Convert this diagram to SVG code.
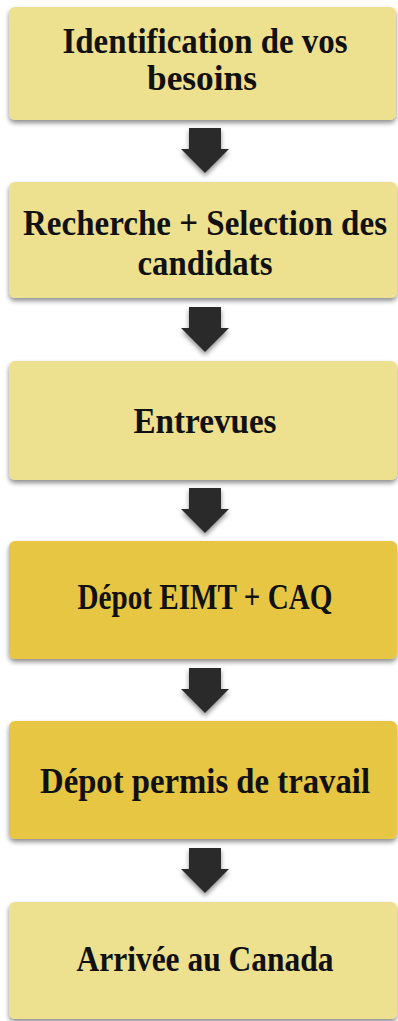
<svg xmlns="http://www.w3.org/2000/svg" width="398" height="1021" viewBox="0 0 398 1021">
<defs>
<filter id="sh" x="-5%" y="-10%" width="110%" height="130%">
<feGaussianBlur in="SourceAlpha" stdDeviation="2.5"/>
<feOffset dx="0" dy="3" result="b"/>
<feComponentTransfer><feFuncA type="linear" slope="0.45"/></feComponentTransfer>
<feMerge><feMergeNode/><feMergeNode in="SourceGraphic"/></feMerge>
</filter>
<path id="arr" d="M-16,0 H16 V21 H24 L0,45 L-24,21 H-16 Z"/>
</defs>
<style>
.light{fill:#EDE08F}
.dark{fill:#E6C642}
.t{font-family:"Liberation Serif",serif;font-weight:bold;font-size:32px;fill:#111;text-anchor:middle}
.a{fill:#2B2B2B}
</style>
<rect width="398" height="1021" fill="#fff"/>
<g id="connectors" filter="url(#sh)">
<use href="#arr" class="a" x="205" y="128"/>
<use href="#arr" class="a" x="205" y="307"/>
<use href="#arr" class="a" x="205" y="488"/>
<use href="#arr" class="a" x="205" y="668"/>
<use href="#arr" class="a" x="205" y="848"/>
</g>
<g id="n1"><rect class="light" x="9" y="7" width="387" height="113" rx="6" filter="url(#sh)"/>
<g transform="translate(0,53) scale(1,1.15)"><text class="t" x="205" y="0" textLength="285" lengthAdjust="spacingAndGlyphs">Identification de vos</text></g>
<g transform="translate(0,90) scale(1,1.15)"><text class="t" x="202" y="0" textLength="110" lengthAdjust="spacingAndGlyphs">besoins</text></g></g>
<g id="n2"><rect class="light" x="9" y="182" width="388" height="116" rx="6" filter="url(#sh)"/>
<g transform="translate(0,235) scale(1,1.15)"><text class="t" x="205" y="0" textLength="364" lengthAdjust="spacingAndGlyphs">Recherche + Selection des</text></g>
<g transform="translate(0,275) scale(1,1.15)"><text class="t" x="205" y="0" textLength="135" lengthAdjust="spacingAndGlyphs">candidats</text></g></g>
<g id="n3"><rect class="light" x="9" y="361" width="388" height="119" rx="6" filter="url(#sh)"/>
<g transform="translate(0,433) scale(1,1.15)"><text class="t" x="205" y="0" textLength="143" lengthAdjust="spacingAndGlyphs">Entrevues</text></g></g>
<g id="n4"><rect class="dark" x="9" y="541" width="388" height="118" rx="6" filter="url(#sh)"/>
<g transform="translate(0,609) scale(1,1.15)"><text class="t" x="205" y="0" textLength="255" lengthAdjust="spacingAndGlyphs">Dépot EIMT + CAQ</text></g></g>
<g id="n5"><rect class="dark" x="9" y="721" width="388" height="118" rx="6" filter="url(#sh)"/>
<g transform="translate(0,793) scale(1,1.15)"><text class="t" x="205" y="0" textLength="330" lengthAdjust="spacingAndGlyphs">Dépot permis de travail</text></g></g>
<g id="n6"><rect class="light" x="9" y="902" width="388" height="117" rx="6" filter="url(#sh)"/>
<g transform="translate(0,971) scale(1,1.15)"><text class="t" x="205" y="0" textLength="257" lengthAdjust="spacingAndGlyphs">Arrivée au Canada</text></g></g>
</svg>
